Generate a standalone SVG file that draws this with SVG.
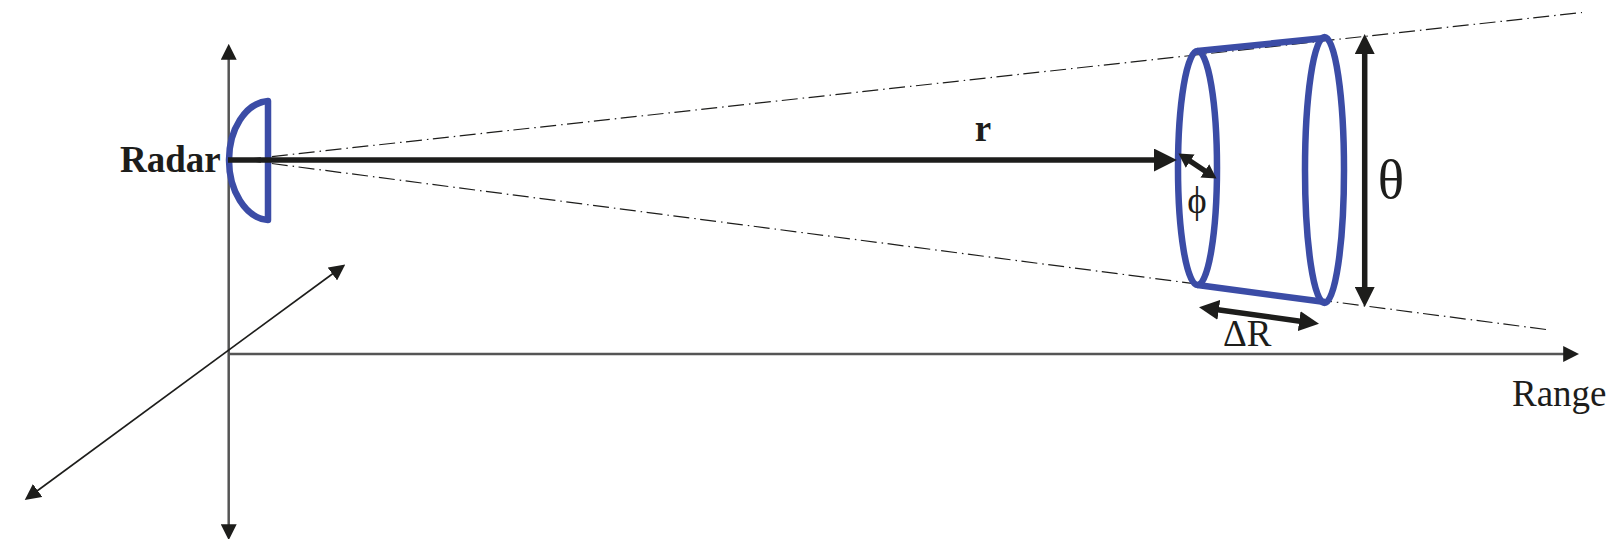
<svg xmlns="http://www.w3.org/2000/svg" width="1624" height="539" viewBox="0 0 1624 539">
<style>
.t{font-family:"Liberation Serif","Times New Roman",serif;fill:#1d1d1b;font-size:37px}
.b{font-weight:700}
.blue{fill:none;stroke:#3b4ca6;stroke-width:6.5;stroke-linejoin:round}
.axis{fill:none;stroke:#555;stroke-width:2.5}
.diag{fill:none;stroke:#1d1d1b;stroke-width:1.6}
.dd{fill:none;stroke:#1d1d1b;stroke-width:1.2;stroke-dasharray:16 5 1.5 4.5}
.dim{fill:none;stroke:#1d1d1b;stroke-width:5.5}
</style>
<defs>
<marker id="m14" viewBox="0 0 10 10" refX="0.5" refY="5" markerWidth="14" markerHeight="16" markerUnits="userSpaceOnUse" orient="auto-start-reverse" preserveAspectRatio="none"><path d="M0 0L10 5L0 10Z" fill="#1d1d1b"/></marker>
<marker id="m16" viewBox="0 0 10 10" refX="0.5" refY="5" markerWidth="16" markerHeight="16" markerUnits="userSpaceOnUse" orient="auto-start-reverse"><path d="M0 0L10 5L0 10Z" fill="#1d1d1b"/></marker>
<marker id="m20" viewBox="0 0 10 10" refX="0.5" refY="5" markerWidth="20" markerHeight="20" markerUnits="userSpaceOnUse" orient="auto-start-reverse"><path d="M0 0L10 5L0 10Z" fill="#1d1d1b"/></marker>
<marker id="m23" viewBox="0 0 10 10" refX="0.5" refY="5" markerWidth="23" markerHeight="23" markerUnits="userSpaceOnUse" orient="auto-start-reverse"><path d="M0 0L10 5L0 10Z" fill="#1d1d1b"/></marker>
</defs>
<g id="beam-edges">
<line class="dd" x1="245" y1="159.5" x2="1582" y2="12.5"/>
<line class="dd" x1="245" y1="160" x2="1546" y2="329.5"/>
</g>
<g id="axes">
<line class="axis" x1="228.7" y1="59" x2="228.7" y2="525" marker-start="url(#m16)" marker-end="url(#m16)"/>
<line class="axis" x1="228.7" y1="354" x2="1564" y2="354" marker-end="url(#m16)"/>
<line class="diag" x1="37" y1="491" x2="333" y2="273.5" marker-start="url(#m16)" marker-end="url(#m16)"/>
</g>
<g id="radar">
<path class="blue" d="M268 101V220C245 218 229 190 229 160C229 130 245 103 268 101Z"/>
<text class="t b" x="120" y="172">Radar</text>
</g>
<g id="range-cell">
<ellipse class="blue" cx="1197.5" cy="168" rx="19.5" ry="117"/>
<ellipse class="blue" cx="1324.5" cy="170" rx="19.5" ry="133"/>
<path class="blue" d="M1197.5 51L1325 38M1197.5 285L1325 302"/>
</g>
<g id="connectors">
<line class="dim" x1="228" y1="160" x2="1155" y2="160" marker-end="url(#m23)"/>
<line class="dim" x1="1364.7" y1="53" x2="1364.7" y2="288" marker-start="url(#m20)" marker-end="url(#m20)"/>
<line class="dim" x1="1189.6" y1="160.8" x2="1205.4" y2="171.2" marker-start="url(#m14)" marker-end="url(#m14)"/>
<line class="dim" x1="1217.8" y1="309.8" x2="1300.2" y2="321.2" marker-start="url(#m20)" marker-end="url(#m20)"/>
</g>
<g id="labels">
<text class="t b" x="983" y="141" text-anchor="middle">r</text>
<text class="t" x="1197" y="213" text-anchor="middle">ϕ</text>
<text class="t" x="1391" y="198" text-anchor="middle" style="font-size:55px">θ</text>
<text class="t" x="1223" y="346">ΔR</text>
<text class="t" x="1512" y="406">Range</text>
</g>
</svg>
